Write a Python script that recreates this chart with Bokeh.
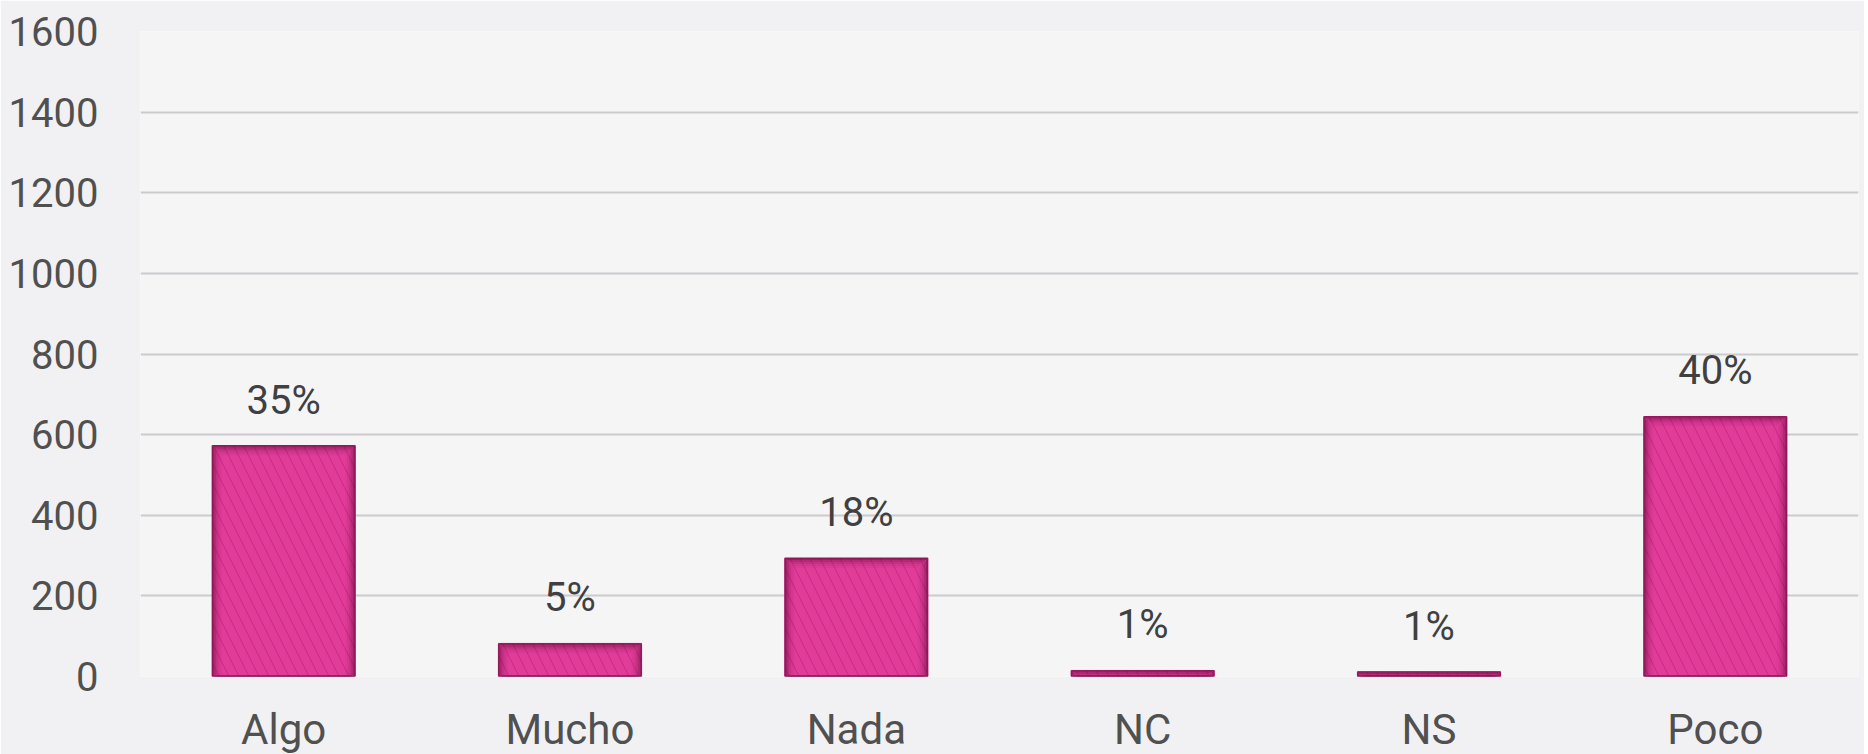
from bokeh.plotting import figure
from bokeh.models import FactorRange, Range1d, FixedTicker, ColumnDataSource, LabelSet
from bokeh.core.properties import value
from bokeh.embed import file_html
from bokeh.resources import INLINE

categories = ["Algo", "Mucho", "Nada", "NC", "NS", "Poco"]
counts = [573, 82, 294, 15, 12, 645]
pct_labels = ["35%", "5%", "18%", "1%", "1%", "40%"]
y_ticks = [0, 200, 400, 600, 800, 1000, 1200, 1400, 1600]

FONT = "Roboto"
FRAME_W, FRAME_H = 1718, 645
Y_MAX = 1600
BAR_W = 0.5

src = ColumnDataSource(dict(cat=categories, n=counts, pct=pct_labels))

p = figure(
    x_range=FactorRange(*categories),
    y_range=Range1d(0, Y_MAX),
    frame_width=FRAME_W, frame_height=FRAME_H,
    output_backend="svg", toolbar_location=None,
    min_border_left=140, min_border_right=6, min_border_top=31, min_border_bottom=10,
)
p.background_fill_color = "#f5f5f6"
p.border_fill_color = "#f1f1f3"
p.outline_line_color = None

p.vbar(x="cat", top="n", width=BAR_W, source=src,
       fill_color="#d6238a", line_color="#b01c6c", line_width=1,
       hatch_pattern="left_diagonal_line", hatch_color="#e64ea3",
       hatch_alpha=0.6, hatch_scale=20, hatch_weight=8)

# inner shadow of the bars (inset outlines, derived from the same counts)
px_x = len(categories) / FRAME_W
px_y = Y_MAX / FRAME_H
for k, a in [(1, 0.55), (3, 0.35), (5, 0.2), (7, 0.1), (9, 0.05)]:
    p.vbar(x=categories, top=[v - k * px_y for v in counts], bottom=-40,
           width=BAR_W - 2 * k * px_x,
           fill_color=None, line_color="#5a0a33", line_alpha=a, line_width=2)

labels = LabelSet(x="cat", y="n", text="pct", source=src,
                  text_align="center", text_baseline="alphabetic",
                  y_offset=32, text_font=value(FONT), text_font_size="40px",
                  text_color="#404040")
p.add_layout(labels)

p.xgrid.grid_line_color = None
p.ygrid.grid_line_color = "#cbcbcd"
p.ygrid.grid_line_width = 2
p.yaxis.ticker = FixedTicker(ticks=y_ticks)

for ax in (p.xaxis[0], p.yaxis[0]):
    ax.axis_line_color = None
    ax.major_tick_line_color = None
    ax.minor_tick_line_color = None
    ax.major_label_text_font = FONT
    ax.major_label_text_color = "#505050"

p.yaxis.major_label_text_font_size = "40px"
p.xaxis.major_label_text_font_size = "42px"
p.yaxis.major_label_standoff = 36
p.xaxis.major_label_standoff = 22

open("out.html", "w").write(file_html(p, INLINE))
